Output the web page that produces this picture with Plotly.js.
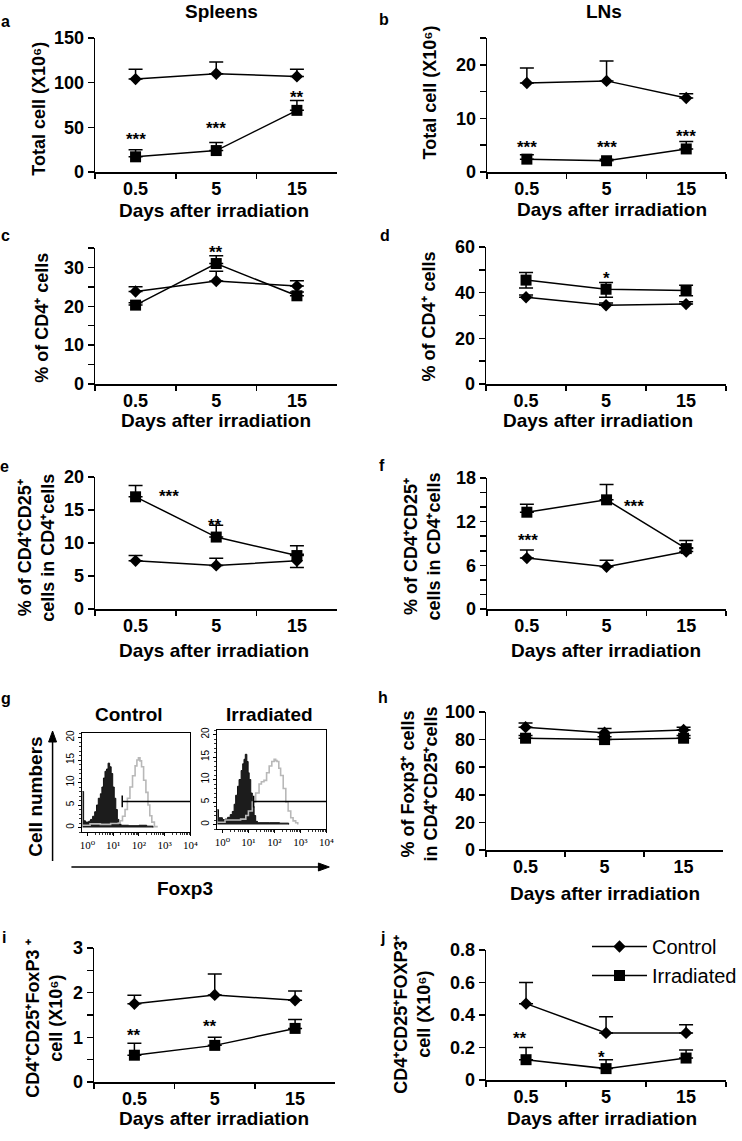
<!DOCTYPE html>
<html><head><meta charset="utf-8">
<script src="https://cdn.plot.ly/plotly-3.0.1.min.js"></script>
<style>html,body{margin:0;padding:0;background:#fff}</style>
</head><body><div id="chart" style="width:742px;height:1141px"></div>
<script>
// ---------------- DATA ----------------
const days = ['0.5', '5', '15'];
const noErr = [0, 0, 0];

// a: Spleens, total cells (x10^6)
const aControl = [104, 110, 107];
const aControlErr = [11, 13, 8];
const aIrradiated = [17, 24, 69];
const aIrradiatedErr = [8, 9, 11];
const aTicks = [0, 50, 100, 150];
const aTickText = ['0', '50', '100', '150'];
const aStars = [{x: 0, y: 41, t: '***'}, {x: 1, y: 53, t: '***'}, {x: 2, y: 88, t: '**'}];

// b: LNs, total cells (x10^6)
const bControl = [16.6, 17.0, 13.8];
const bControlErr = [2.8, 3.7, 0.8];
const bIrradiated = [2.4, 2.1, 4.3];
const bIrradiatedErr = [0.8, 0.3, 1.4];
const bTicks = [0, 10, 20];
const bTickText = ['0', '10', '20'];
const bMinorStep = 5;
const bStars = [{x: 0, y: 5.4, t: '***'}, {x: 1, y: 5.4, t: '***'}, {x: 2, y: 7.3, t: '***'}];

// c: Spleens, % CD4+
const cControl = [23.8, 26.5, 25.2];
const cControlErr = [1.2, 2.5, 1.4];
const cIrradiated = [20.3, 31.0, 22.7];
const cIrradiatedErr = [0.6, 2.0, 1.0];
const cTicks = [0, 10, 20, 30];
const cTickText = ['0', '10', '20', '30'];
const cMinorStep = 5;
const cStars = [{x: 1, y: 34.9, t: '**'}];

// d: LNs, % CD4+
const dControl = [38, 34.5, 35];
const dControlErr = [1, 1, 1];
const dIrradiated = [45.5, 41.5, 41];
const dIrradiatedErr = [3.3, 3.0, 2.3];
const dIrradiatedErrMinus = [3.5, 3.5, 2.3];
const dTicks = [0, 20, 40, 60];
const dTickText = ['0', '20', '40', '60'];
const dMinorStep = 10;
const dStars = [{x: 1, y: 47.8, t: '*'}];

// e: Spleens, % CD4+CD25+ in CD4+
const eControl = [7.3, 6.6, 7.3];
const eControlErr = [0.8, 1.1, 1.0];
const eControlErrMinus = [0, 0, 1.0];
const eIrradiated = [17.0, 10.9, 8.1];
const eIrradiatedErr = [1.7, 1.8, 1.5];
const eTicks = [0, 5, 10, 15, 20];
const eTickText = ['0', '5', '10', '15', '20'];
const eStars = [{x: 0.41, y: 17.6, t: '***'}, {x: 0.98, y: 13.3, t: '**'}];

// f: LNs, % CD4+CD25+ in CD4+
const fControl = [7.0, 5.8, 7.9];
const fControlErr = [1.1, 0.9, 0.5];
const fIrradiated = [13.3, 15.0, 8.3];
const fIrradiatedErr = [1.1, 2.1, 1.1];
const fTicks = [0, 6, 12, 18];
const fTickText = ['0', '6', '12', '18'];
const fMinorStep = 2;
const fStars = [{x: 1.34, y: 14.6, t: '***'}, {x: 0.01, y: 10.0, t: '***'}];

// g: Foxp3 histograms (log10 channel, cell numbers)
const gCtrlIsoExp   = [-0.2, -0.15, -0.08, 0.05, 0.12, 0.2, 0.28, 0.35, 0.42, 0.5, 0.56, 0.62, 0.68, 0.74, 0.8, 0.86, 0.92, 0.98, 1.04, 1.1, 1.16, 1.22, 1.3, 1.6, 2.0, 2.3, 2.55];
const gCtrlIsoCount = [8, 1.5, 1.2, 1.4, 1.8, 2.5, 3.5, 5, 6.5, 7.5, 9, 11, 12.5, 13, 14.3, 13.5, 12, 9, 6.5, 4, 1.8, 0.8, 0.5, 0.4, 0.5, 0.3, 0];
const gCtrlFoxExp   = [-0.2, 0.1, 0.5, 0.9, 1.2, 1.27, 1.36, 1.46, 1.55, 1.65, 1.75, 1.85, 1.92, 1.98, 2.04, 2.1, 2.18, 2.27, 2.35, 2.42, 2.5, 2.6, 2.7];
const gCtrlFoxCount = [0.5, 0.8, 0.7, 0.9, 1.0, 1.5, 2.5, 4, 6.5, 9, 11.5, 13.7, 15, 15.5, 14.8, 13.5, 10.5, 7.8, 5, 2.6, 1.2, 0.2, 0];
const gCtrlGate = {start: 1.35, level: 5.8};
const gIrrIsoExp    = [-0.2, -0.15, 0, 0.1, 0.2, 0.3, 0.38, 0.45, 0.51, 0.58, 0.64, 0.72, 0.78, 0.83, 0.88, 0.94, 0.99, 1.03, 1.09, 1.15, 1.22, 1.28, 1.35, 1.8, 2.2, 2.55];
const gIrrIsoCount  = [3.3, 1.5, 1.1, 1.2, 1.6, 2.2, 2.9, 4.5, 6.5, 8.5, 10, 12, 13.5, 14.5, 15.6, 14, 11.5, 10, 7, 4, 2, 0.7, 0.4, 0.4, 0.3, 0];
const gIrrFoxExp    = [-0.2, 0.1, 0.5, 0.7, 0.9, 1.0, 1.15, 1.28, 1.41, 1.5, 1.6, 1.7, 1.8, 1.9, 1.99, 2.05, 2.1, 2.17, 2.24, 2.34, 2.44, 2.53, 2.63, 2.72, 2.82, 2.9];
const gIrrFoxCount  = [0.5, 1, 1, 1.2, 2, 3, 5, 7, 9, 9.5, 9.8, 11.5, 13, 14, 14.5, 14.2, 14, 12.5, 10.9, 8, 5, 3, 1.5, 0.8, 0.4, 0];
const gIrrGate = {start: 1.2, level: 5.1};
const gYTicks = [0, 5, 10, 15, 20];
const gXTicks = [1, 10, 100, 1000, 10000];
const gXTickText = ['10⁰', '10¹', '10²', '10³', '10⁴'];

// h: LNs, % Foxp3+ in CD4+CD25+
const hControl = [89, 85, 87];
const hControlErr = [3, 3, 2];
const hIrradiated = [81, 80, 81];
const hIrradiatedErr = [2, 2, 2];
const hTicks = [0, 20, 40, 60, 80, 100];
const hTickText = ['0', '20', '40', '60', '80', '100'];
const hStars = [];

// i: Spleens, CD4+CD25+FoxP3+ cells (x10^6)
const iControl = [1.75, 1.95, 1.83];
const iControlErr = [0.19, 0.47, 0.21];
const iIrradiated = [0.6, 0.82, 1.2];
const iIrradiatedErr = [0.27, 0.18, 0.2];
const iTicks = [0, 1, 2, 3];
const iTickText = ['0', '1', '2', '3'];
const iMinorStep = 0.5;
const iStars = [{x: 0, y: 1.12, t: '**'}, {x: 0.94, y: 1.34, t: '**'}];

// j: LNs, CD4+CD25+FOXP3+ cells (x10^6)
const jControl = [0.47, 0.29, 0.29];
const jControlErr = [0.13, 0.1, 0.05];
const jIrradiated = [0.125, 0.07, 0.135];
const jIrradiatedErr = [0.075, 0.055, 0.05];
const jTicks = [0, 0.2, 0.4, 0.6, 0.8];
const jTickText = ['0', '0.2', '0.4', '0.6', '0.8'];
const jStars = [{x: -0.08, y: 0.28, t: '**'}, {x: 0.94, y: 0.166, t: '*'}];

const seriesNames = ['Control', 'Irradiated'];

// ---------------- LAYOUT HELPERS ----------------
const W = 742, H = 1141;
const fx = p => p / W;
const fy = p => 1 - p / H;
const FONT = 'Liberation Sans, Arial, Helvetica, sans-serif';

const panels = [
  {k: 1, box: [96, 340, 38, 172], yr: [0, 150], tv: aTicks, tt: aTickText, c: aControl, ce: aControlErr, cm: noErr, r: aIrradiated, re: aIrradiatedErr, rm: noErr, stars: aStars},
  {k: 2, box: [491, 732, 38, 172], yr: [0, 25], tv: bTicks, tt: bTickText, minor: bMinorStep, c: bControl, ce: bControlErr, cm: noErr, r: bIrradiated, re: bIrradiatedErr, rm: noErr, stars: bStars},
  {k: 3, box: [96, 340, 248, 384], yr: [0, 35], tv: cTicks, tt: cTickText, minor: cMinorStep, c: cControl, ce: cControlErr, cm: noErr, r: cIrradiated, re: cIrradiatedErr, rm: noErr, stars: cStars},
  {k: 4, box: [490, 732, 247, 384], yr: [0, 60], tv: dTicks, tt: dTickText, minor: dMinorStep, c: dControl, ce: dControlErr, cm: noErr, r: dIrradiated, re: dIrradiatedErr, rm: dIrradiatedErrMinus, stars: dStars},
  {k: 5, box: [96, 340, 477, 609], yr: [0, 20], tv: eTicks, tt: eTickText, c: eControl, ce: eControlErr, cm: eControlErrMinus, r: eIrradiated, re: eIrradiatedErr, rm: noErr, stars: eStars},
  {k: 6, box: [491, 732, 478, 609], yr: [0, 18], tv: fTicks, tt: fTickText, minor: fMinorStep, c: fControl, ce: fControlErr, cm: noErr, r: fIrradiated, re: fIrradiatedErr, rm: noErr, stars: fStars},
  {k: 7, box: [490, 729, 712, 850], yr: [0, 100], tv: hTicks, tt: hTickText, c: hControl, ce: hControlErr, cm: noErr, r: hIrradiated, re: hIrradiatedErr, rm: noErr, stars: hStars},
  {k: 8, box: [95, 338, 948, 1082], yr: [0, 3], tv: iTicks, tt: iTickText, minor: iMinorStep, c: iControl, ce: iControlErr, cm: noErr, r: iIrradiated, re: iIrradiatedErr, rm: noErr, stars: iStars},
  {k: 9, box: [490, 732, 950, 1080], yr: [0, 0.8], tv: jTicks, tt: jTickText, c: jControl, ce: jControlErr, cm: noErr, r: jIrradiated, re: jIrradiatedErr, rm: noErr, stars: jStars, legend: true}
];

const sfx = k => (k === 1 ? '' : String(k));
const traces = [];
const layout = {
  width: W, height: H,
  margin: {l: 0, r: 0, t: 0, b: 0},
  paper_bgcolor: '#fff', plot_bgcolor: 'rgba(0,0,0,0)',
  font: {family: FONT, color: '#000'},
  showlegend: true,
  legend: {x: fx(592), y: fy(927), xanchor: 'left', yanchor: 'top', bgcolor: 'rgba(0,0,0,0)',
           font: {family: FONT, size: 20, color: '#000'}, itemwidth: 55, tracegroupgap: 0, traceorder: 'normal'},
  annotations: [],
  shapes: []
};
const ann = layout.annotations;
const tickFont = {family: FONT, size: 18, color: '#000', weight: 'bold'};

function addSeries(p, y, ep, em, symbol, size, name) {
  traces.push({
    type: 'scatter', mode: 'lines+markers', x: days, y: y, name: name,
    xaxis: 'x' + sfx(p.k), yaxis: 'y' + sfx(p.k),
    showlegend: !!p.legend,
    line: {color: '#000', width: 1.5},
    marker: {symbol: symbol, size: size, color: '#000'},
    error_y: {type: 'data', array: ep, arrayminus: em, symmetric: false, color: '#000', thickness: 1.5, width: 7},
    cliponaxis: false, hoverinfo: 'skip'
  });
}

panels.forEach(p => {
  const [x0, x1, y0, y1] = p.box;
  addSeries(p, p.c, p.ce, p.cm, 'diamond', 9.5, seriesNames[0]);
  addSeries(p, p.r, p.re, p.rm, 'square', 11, seriesNames[1]);
  layout['xaxis' + sfx(p.k)] = {
    domain: [fx(x0), fx(x1)], anchor: 'y' + sfx(p.k), type: 'category',
    categoryorder: 'array', categoryarray: days, range: [-0.5, 2.5],
    showline: true, linecolor: '#000', linewidth: 1.5, ticks: 'outside', tickson: 'boundaries',
    ticklen: 5, tickwidth: 1.5, tickcolor: '#000', tickfont: tickFont,
    showgrid: false, zeroline: false, fixedrange: true
  };
  const ya = {
    domain: [fy(y1), fy(y0)], anchor: 'x' + sfx(p.k), range: p.yr,
    tickmode: 'array', tickvals: p.tv, ticktext: p.tt,
    showline: true, linecolor: '#000', linewidth: 1.5, ticks: 'outside',
    ticklen: 6, tickwidth: 1.5, tickcolor: '#000', tickfont: tickFont,
    showgrid: false, zeroline: false, fixedrange: true
  };
  if (p.minor) ya.minor = {tickmode: 'linear', tick0: 0, dtick: p.minor, ticks: 'outside', ticklen: 6, tickwidth: 1.5, tickcolor: '#000', showgrid: false};
  layout['yaxis' + sfx(p.k)] = ya;
  p.stars.forEach(s => ann.push({
    xref: 'x' + sfx(p.k), yref: 'y' + sfx(p.k), x: s.x, y: s.y, text: s.t, showarrow: false,
    yshift: -4, font: {family: FONT, size: 17, color: '#000', weight: 'bold'}
  }));
});

// ---------------- g: histograms ----------------
const toLin = arr => arr.map(v => Math.pow(10, v));
function gateTrace(g, k) {
  const s = Math.pow(10, g.start), e = gXTicks[gXTicks.length - 1];
  return {type: 'scatter', mode: 'lines', xaxis: 'x' + k, yaxis: 'y' + k, showlegend: false, hoverinfo: 'skip',
          x: [s, s, null, s, e], y: [g.level - 1.3, g.level + 1.3, null, g.level, g.level],
          line: {color: '#000', width: 1.5}};
}
const hist = [
  {k: 10, box: [83, 192, 733, 832], iso: [gCtrlIsoExp, gCtrlIsoCount], fox: [gCtrlFoxExp, gCtrlFoxCount], gate: gCtrlGate},
  {k: 11, box: [219, 329, 730, 829], iso: [gIrrIsoExp, gIrrIsoCount], fox: [gIrrFoxExp, gIrrFoxCount], gate: gIrrGate}
];
const minorVals = [];
for (let d = 0; d < 4; d++) for (let m = 2; m <= 9; m++) minorVals.push(m * Math.pow(10, d));
hist.forEach(hh => {
  const [x0, x1, y0, y1] = hh.box;
  traces.push({type: 'scatter', mode: 'lines', x: toLin(hh.iso[0]), y: hh.iso[1], xaxis: 'x' + hh.k, yaxis: 'y' + hh.k,
               showlegend: false, hoverinfo: 'skip', line: {shape: 'hv', color: '#111', width: 1},
               fill: 'tozeroy', fillcolor: '#1c1c1c'});
  traces.push({type: 'scatter', mode: 'lines', x: toLin(hh.fox[0]), y: hh.fox[1], xaxis: 'x' + hh.k, yaxis: 'y' + hh.k,
               showlegend: false, hoverinfo: 'skip', line: {shape: 'hv', color: '#b8b8b8', width: 1.6}});
  traces.push(gateTrace(hh.gate, hh.k));
  layout['xaxis' + hh.k] = {
    domain: [fx(x0), fx(x1)], anchor: 'y' + hh.k, type: 'log', range: [-0.2, 4.0],
    tickmode: 'array', tickvals: gXTicks, ticktext: gXTickText,
    showline: true, mirror: true, linecolor: '#000', linewidth: 1, ticks: 'outside', ticklen: 3, tickcolor: '#000',
    minor: {tickmode: 'array', tickvals: minorVals, ticks: 'outside', ticklen: 2, tickcolor: '#000', tickwidth: 0.8},
    tickfont: {family: 'Liberation Serif, DejaVu Serif, serif', size: 11, color: '#000'},
    showgrid: false, zeroline: false, fixedrange: true
  };
  layout['yaxis' + hh.k] = {
    domain: [fy(y1), fy(y0)], anchor: 'x' + hh.k, range: [-1, 21],
    tickmode: 'array', tickvals: gYTicks, tickangle: -90,
    showline: true, mirror: true, linecolor: '#000', linewidth: 1, ticks: 'outside', ticklen: 3, tickcolor: '#000',
    minor: {dtick: 1, ticks: 'outside', ticklen: 2, tickcolor: '#000', tickwidth: 0.8},
    tickfont: {family: FONT, size: 10, color: '#000'},
    showgrid: false, zeroline: false, fixedrange: true
  };
});

// ---------------- TEXT ----------------
function txt(x, y, text, size, extra) {
  ann.push(Object.assign({xref: 'paper', yref: 'paper', x: fx(x), y: fy(y), text: text, showarrow: false,
    xanchor: 'center', yanchor: 'middle', font: {family: FONT, size: size, color: '#000', weight: 'bold'}}, extra || {}));
}
// column titles
txt(223, 12, 'Spleens', 19);
txt(609, 12, 'LNs', 19);
// panel letters
[['a', 6, 21], ['b', 387, 20], ['c', 6, 235], ['d', 388, 235], ['e', 5, 466], ['f', 385, 465],
 ['g', 6, 698], ['h', 386, 697], ['i', 4, 937], ['j', 386, 937]].forEach(l => txt(l[1], l[2], l[0], 16));
// x titles
const xTitle = 'Days after irradiation';
[[216, 211], [617, 209], [218, 420], [603, 420], [216, 650], [611, 650], [610, 893], [216, 1118], [607, 1118]]
  .forEach(pt => txt(pt[0], pt[1], xTitle, 19));
// y titles
const rot = {textangle: -90};
txt(39, 109, 'Total cell (X10⁶)', 18, rot);
txt(434, 92, 'Total cell (X10⁶)', 18, rot);
txt(42, 318, '% of CD4⁺ cells', 18, rot);
txt(433, 316, '% of CD4⁺ cells', 18, rot);
txt(36, 548, '% of CD4⁺CD25⁺<br>cells in CD4⁺cells', 18, rot);
txt(425, 547, '% of CD4⁺CD25⁺<br>cells in CD4⁺cells', 18, rot);
txt(422, 784, '% of Foxp3⁺ cells<br>in CD4⁺CD25⁺cells', 18, rot);
txt(44, 1018, 'CD4⁺CD25⁺FoxP3 ⁺<br>cell (X10⁶)', 18, rot);
txt(415, 1014, 'CD4⁺CD25⁺FOXP3⁺<br>cell (X10⁶)', 18, rot);
// g texts
txt(130, 714, 'Control', 19);
txt(272, 714, 'Irradiated', 19);
txt(35, 797, 'Cell numbers', 19, rot);
txt(187, 888, 'Foxp3', 19);
// g axis arrows (decorative shapes)
const P = (x, y) => fx(x) + ',' + fy(y);
layout.shapes.push({type: 'line', xref: 'paper', yref: 'paper', x0: fx(53), y0: fy(861), x1: fx(53), y1: fy(740), line: {color: '#000', width: 1.5}});
layout.shapes.push({type: 'path', xref: 'paper', yref: 'paper', path: 'M' + P(49, 742) + 'L' + P(53, 731) + 'L' + P(57, 742) + 'Z', fillcolor: '#000', line: {color: '#000', width: 1}});
layout.shapes.push({type: 'line', xref: 'paper', yref: 'paper', x0: fx(72), y0: fy(867), x1: fx(323), y1: fy(867), line: {color: '#000', width: 1.5}});
layout.shapes.push({type: 'path', xref: 'paper', yref: 'paper', path: 'M' + P(321, 863) + 'L' + P(332, 867) + 'L' + P(321, 871) + 'Z', fillcolor: '#000', line: {color: '#000', width: 1}});

Plotly.newPlot('chart', traces, layout, {displayModeBar: false, staticPlot: true});
</script>
</body></html>
